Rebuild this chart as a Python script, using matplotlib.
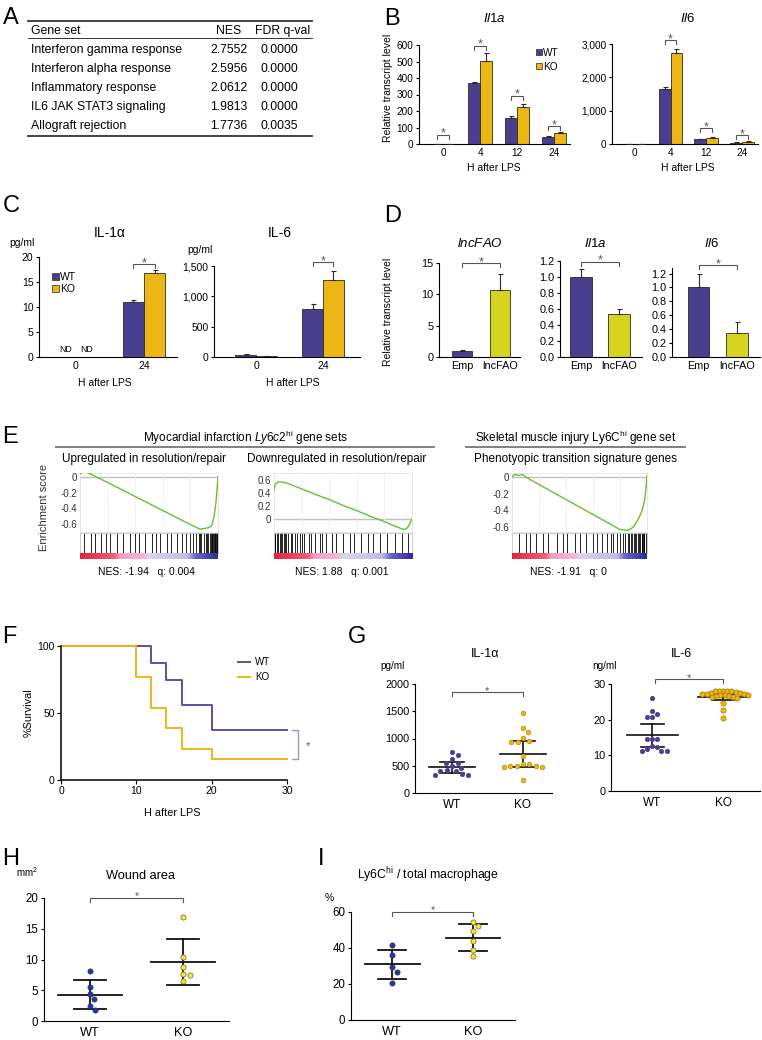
import numpy as np
import matplotlib
matplotlib.use("Agg")
import matplotlib.pyplot as plt
from matplotlib.lines import Line2D
from matplotlib.patches import Rectangle
from matplotlib.colors import LinearSegmentedColormap
from matplotlib.ticker import FuncFormatter

plt.rcParams['font.family'] = ['Liberation Sans', 'DejaVu Sans']
plt.rcParams['mathtext.fontset'] = 'custom'
plt.rcParams['mathtext.rm'] = 'Liberation Sans'
plt.rcParams['mathtext.it'] = 'Liberation Sans:italic'
plt.rcParams['mathtext.bf'] = 'Liberation Sans:bold'
plt.rcParams['axes.linewidth'] = 0.8
plt.rcParams['xtick.major.width'] = 0.8
plt.rcParams['ytick.major.width'] = 0.8

# ---------------- DATA ----------------
# A: GSEA table
gene_sets = ["Interferon gamma response", "Interferon alpha response",
             "Inflammatory response", "IL6 JAK STAT3 signaling", "Allograft rejection"]
nes_values = ["2.7552", "2.5956", "2.0612", "1.9813", "1.7736"]
fdr_values = ["0.0000", "0.0000", "0.0000", "0.0000", "0.0035"]

# B: transcript levels after LPS
b_hours = ["0", "4", "12", "24"]
b_il1a_wt = [1, 368, 155, 42]
b_il1a_wt_err = [0.5, 6, 12, 4]
b_il1a_ko = [1, 503, 226, 68]
b_il1a_ko_err = [0.5, 48, 18, 6]
b_il6_wt = [8, 1640, 140, 40]
b_il6_wt_err = [2, 70, 15, 8]
b_il6_ko = [6, 2740, 190, 72]
b_il6_ko_err = [2, 120, 15, 15]

# C: secreted cytokines
c_hours = ["0", "24"]
c_il1a_wt = [0, 11.0]
c_il1a_wt_err = [0, 0.35]
c_il1a_ko = [0, 16.8]
c_il1a_ko_err = [0, 0.6]
c_il6_wt = [40, 790]
c_il6_wt_err = [10, 80]
c_il6_ko = [10, 1265]
c_il6_ko_err = [4, 160]

# D: lncFAO overexpression
d_groups = ["Emp", "lncFAO"]
d_lncfao = [1.0, 10.7]
d_lncfao_err = [0.1, 2.5]
d_il1a = [1.0, 0.54]
d_il1a_err = [0.1, 0.06]
d_il6 = [1.0, 0.35]
d_il6_err = [0.2, 0.15]

# E: GSEA running enrichment scores
e_titles = ["Upregulated in resolution/repair", "Downregulated in resolution/repair",
            "Phenotyopic transition signature genes"]
e_nes = ["NES: -1.94   q: 0.004", "NES: 1.88   q: 0.001", "NES: -1.91   q: 0"]
e1_rank = [0, 0.02, 0.05, 0.12, 0.2, 0.3, 0.4, 0.5, 0.6, 0.7, 0.8, 0.87, 0.9, 0.93, 0.955, 0.97, 0.985, 1.0]
e1_es = [0.04, 0.07, 0.06, 0.0, -0.07, -0.16, -0.25, -0.34, -0.43, -0.52, -0.61, -0.67, -0.66, -0.65, -0.62, -0.52, -0.33, 0.0]
e2_rank = [0, 0.01, 0.03, 0.06, 0.1, 0.2, 0.3, 0.4, 0.5, 0.6, 0.7, 0.8, 0.9, 0.94, 0.96, 0.98, 1.0]
e2_es = [0.45, 0.54, 0.57, 0.57, 0.55, 0.465, 0.38, 0.30, 0.21, 0.13, 0.04, -0.04, -0.13, -0.16, -0.15, -0.09, 0.0]
e3_rank = [0, 0.02, 0.05, 0.08, 0.1, 0.2, 0.3, 0.4, 0.5, 0.6, 0.7, 0.8, 0.86, 0.9, 0.93, 0.96, 0.98, 0.995, 1.0]
e3_es = [0.0, 0.03, 0.02, 0.03, 0.0, -0.09, -0.18, -0.27, -0.36, -0.45, -0.54, -0.63, -0.64, -0.60, -0.52, -0.42, -0.30, -0.10, 0.02]
e1_hits = [0.03, 0.08, 0.11, 0.15, 0.19, 0.22, 0.27, 0.31, 0.36, 0.40, 0.43, 0.47, 0.52, 0.55,
           0.58, 0.63, 0.66, 0.70, 0.74, 0.77, 0.80, 0.82, 0.84, 0.86, 0.87, 0.88, 0.90, 0.91,
           0.92, 0.93, 0.94, 0.95, 0.955, 0.96, 0.965, 0.97, 0.975, 0.98, 0.985, 0.99, 0.995]
e2_hits = [0.005, 0.01, 0.02, 0.03, 0.04, 0.05, 0.06, 0.07, 0.08, 0.09, 0.10, 0.12, 0.13, 0.15,
           0.17, 0.19, 0.20, 0.22, 0.25, 0.27, 0.30, 0.33, 0.35, 0.38, 0.42, 0.45, 0.50, 0.55,
           0.58, 0.63, 0.68, 0.72, 0.77, 0.82, 0.88, 0.93, 0.97]
e3_hits = [0.05, 0.10, 0.13, 0.18, 0.23, 0.27, 0.33, 0.38, 0.41, 0.47, 0.50, 0.55, 0.60, 0.63,
           0.67, 0.70, 0.73, 0.75, 0.78, 0.80, 0.82, 0.84, 0.86, 0.87, 0.88, 0.89, 0.90, 0.91,
           0.92, 0.93, 0.94, 0.95, 0.96, 0.965, 0.97, 0.975, 0.98, 0.99]

# F: survival
f_wt_time = [0, 12, 14, 16, 20, 30]
f_wt_surv = [100, 87.5, 75, 56, 37.5, 37.5]
f_ko_time = [0, 10, 12, 14, 16, 20, 30]
f_ko_surv = [100, 76.9, 53.8, 38.5, 23.1, 15.4, 15.4]

# G: serum cytokines
g_il1a_wt = [745, 700, 615, 555, 550, 490, 460, 420, 400, 395, 340, 335, 330]
g_il1a_ko = [1477, 1194, 1120, 1003, 960, 929, 929, 683, 529, 529, 492, 492, 492, 468, 468, 246]
g_il1a_mean = [474, 714]
g_il1a_err = [98, 234]
g_il6_wt = [26.1, 22.3, 21.7, 20.7, 20.7, 14.5, 14.5, 14.5, 12.5, 12.3, 11.8, 11.3, 11.3, 11.3]
g_il6_ko = [28.1, 28.1, 28.0, 27.9, 27.9, 27.8, 27.6, 27.5, 27.3, 27.2, 27.1, 27.0, 27.0, 26.9,
            26.6, 26.5, 26.4, 26.3, 26.2, 24.8, 22.8, 20.4]
g_il6_mean = [15.6, 26.3]
g_il6_err = [3.15, 0.8]

# H: wound area
h_wt = [8.1, 5.5, 4.4, 3.6, 2.4, 1.8]
h_ko = [16.9, 10.4, 8.8, 7.6, 7.4, 6.5]
h_mean = [4.3, 9.6]
h_err = [2.3, 3.8]

# I: Ly6Chi / total macrophage
i_wt = [41.4, 35.9, 29.3, 26.9, 20.8]
i_ko = [54.4, 52.0, 49.2, 44.0, 39.0, 35.3]
i_mean = [31.0, 45.7]
i_err = [8.0, 7.4]

groups_wtko = ["WT", "KO"]

# ---------------- STYLE ----------------
WT_C = '#4a3f8f'
KO_C = '#ecb614'
LNC_C = '#d6d41f'
EDGE = '#2a2a2a'

W, H = 762, 1040
fig = plt.figure(figsize=(W / 100, H / 100), dpi=100)
fig.patch.set_facecolor('white')


def fx(x):
    return x / W


def fy(y):
    return 1 - y / H


def px_ax(l, t, r, b):
    return fig.add_axes([fx(l), fy(b), (r - l) / W, (b - t) / H])


def ctext(x, yc, s, fs, ha='center', **kw):
    base = yc + 0.358 * fs * 100 / 72
    return fig.text(fx(x), fy(base), s, ha=ha, va='baseline', fontsize=fs, **kw)


def rtext(x, yc, s, fs, **kw):
    return fig.text(fx(x), fy(yc), s, ha='center', va='center', rotation=90, fontsize=fs, **kw)


def fline(xs, ys, **kw):
    fig.add_artist(Line2D([fx(v) for v in xs], [fy(v) for v in ys],
                          transform=fig.transFigure, **kw))


def frect(x, y, w, h, **kw):
    fig.add_artist(Rectangle((fx(x), fy(y + h)), w / W, h / H,
                             transform=fig.transFigure, **kw))


def panel_label(x, base, s):
    fig.text(fx(x), fy(base), s, ha='left', va='baseline', fontsize=17)


def style(ax, fs, ylen=2.5):
    ax.spines['top'].set_visible(False)
    ax.spines['right'].set_visible(False)
    ax.tick_params(axis='y', direction='out', length=ylen, pad=1.5, labelsize=fs)
    ax.tick_params(axis='x', length=0, pad=3, labelsize=fs)


def bar_panel(ax, groups, series, errs, colors, width, ylim, yticks, fs, fmt=None, xlim=None):
    x = np.arange(len(groups))
    n = len(series)
    for i, (vals, err, col) in enumerate(zip(series, errs, colors)):
        xi = x + (i - (n - 1) / 2) * width
        vals = np.asarray(vals, float)
        err = np.asarray(err, float)
        ax.bar(xi, vals, width, color=col, edgecolor=EDGE, linewidth=0.6, zorder=2)
        m = err > 0
        ax.errorbar(xi[m], vals[m], yerr=[np.zeros(m.sum()), err[m]], fmt='none',
                    ecolor=EDGE, elinewidth=0.8, capsize=1.8, capthick=0.8, zorder=3)
    ax.set_xticks(x)
    ax.set_xticklabels(groups)
    ax.set_ylim(*ylim)
    ax.set_yticks(yticks)
    if xlim:
        ax.set_xlim(*xlim)
    if fmt:
        ax.yaxis.set_major_formatter(FuncFormatter(fmt))
    style(ax, fs)


def bracket(ax, x1, x2, ytop, leg_px=4, color='#555555', lw=0.8, star_fs=9, star_px=-2):
    trans = ax.transData
    _, ypx = trans.transform((x1, ytop))
    ylow = trans.inverted().transform((0, ypx - leg_px))[1]
    ax.plot([x1, x1, x2, x2], [ylow, ytop, ytop, ylow], color=color, lw=lw,
            clip_on=False, zorder=5, solid_joinstyle='miter')
    ax.annotate('*', xy=((x1 + x2) / 2, ytop), xytext=(0, star_px), textcoords='offset pixels',
                ha='center', va='baseline', fontsize=star_fs, color=color, annotation_clip=False)


def swarm_x(ax, xc, values, diam):
    trans = ax.transData
    pts = trans.transform(np.column_stack([np.full(len(values), xc), values]))
    ys = pts[:, 1]
    order = np.argsort(-ys, kind='stable')
    placed = []
    offs = np.zeros(len(values))
    for i in order:
        y = ys[i]
        cands = [0.0]
        for (px_, py_) in placed:
            dy = abs(y - py_)
            if dy < diam:
                dx = np.sqrt(diam ** 2 - dy ** 2)
                cands += [px_ + dx, px_ - dx]
        cands = sorted(cands, key=lambda c: (abs(c), -c))
        for c in cands:
            if all((c - a) ** 2 + (y - b) ** 2 >= diam ** 2 - 1e-6 for a, b in placed):
                offs[i] = c
                placed.append((c, y))
                break
    xpix = pts[:, 0] + offs
    return trans.inverted().transform(np.column_stack([xpix, ys]))[:, 0]


def dot_panel(ax, data, means, errs, colors, edges, diams, sizes, mean_hw, cap_hw, lw=1.2):
    for i, (vals, m, e, c, ec, d, s) in enumerate(zip(data, means, errs, colors, edges, diams, sizes)):
        xs = swarm_x(ax, i, vals, d)
        ax.scatter(xs, vals, s=s, color=c, edgecolor=ec, linewidth=0.5, zorder=4, clip_on=False)
        ax.plot([i - mean_hw, i + mean_hw], [m, m], color='#111111', lw=lw, zorder=3)
        ax.plot([i - cap_hw, i + cap_hw], [m + e, m + e], color='#111111', lw=lw, zorder=3)
        ax.plot([i - cap_hw, i + cap_hw], [m - e, m - e], color='#111111', lw=lw, zorder=3)
        ax.plot([i, i], [m - e, m + e], color='#111111', lw=lw, zorder=3)


comma = lambda v, p: f"{int(v):,}"

# ================= A =================
panel_label(3, 24, 'A')
fline([28, 312], [21, 21], color='#333333', lw=1.3)
ctext(31, 30, 'Gene set', 8.8, ha='left')
ctext(229, 30, 'NES', 8.8)
ctext(283, 30, 'FDR q-val', 8.8)
fline([28, 312], [38, 38], color='#333333', lw=0.7)
for k, (gs, nes, fdr) in enumerate(zip(gene_sets, nes_values, fdr_values)):
    y = 49 + 19 * k
    ctext(31, y, gs, 8.8, ha='left')
    ctext(229, y, nes, 8.8)
    ctext(279, y, fdr, 8.8)
fline([28, 312], [136, 136], color='#333333', lw=1.3)

# ================= B =================
panel_label(384, 25, 'B')
axb1 = px_ax(419, 45, 570, 144)
bar_panel(axb1, b_hours, [b_il1a_wt, b_il1a_ko], [b_il1a_wt_err, b_il1a_ko_err],
          [WT_C, KO_C], 0.32, (0, 600), range(0, 601, 100), 7.2, xlim=(-0.65, 3.43))
for xi, yb in zip(range(4), [55, 596, 293, 109]):
    bracket(axb1, xi - 0.16, xi + 0.16, yb, leg_px=4)
axb2 = px_ax(612, 44, 758, 144)
bar_panel(axb2, b_hours, [b_il6_wt, b_il6_ko], [b_il6_wt_err, b_il6_ko_err],
          [WT_C, KO_C], 0.33, (0, 3000), range(0, 3001, 1000), 7.2, fmt=comma, xlim=(-0.64, 3.45))
for xi, yb in zip([1, 2, 3], [3120, 470, 270]):
    bracket(axb2, xi - 0.165, xi + 0.165, yb, leg_px=4)
ctext(494, 17, r'$\mathit{Il1a}$', 9.5)
ctext(688, 17, r'$\mathit{Il6}$', 9.5)
rtext(388, 88, 'Relative transcript level', 7.5)
ctext(494, 167, 'H after LPS', 7.5)
ctext(688, 167, 'H after LPS', 7.5)
frect(536, 49, 6, 6, facecolor=WT_C, edgecolor=EDGE, lw=0.5)
frect(536, 63, 6, 6, facecolor=KO_C, edgecolor=EDGE, lw=0.5)
ctext(543, 52, 'WT', 7.2, ha='left')
ctext(543, 66, 'KO', 7.2, ha='left')

# ================= C =================
panel_label(3, 212, 'C')
axc1 = px_ax(39, 257, 177, 357)
bar_panel(axc1, c_hours, [c_il1a_wt, c_il1a_ko], [c_il1a_wt_err, c_il1a_ko_err],
          [WT_C, KO_C], 0.31, (0, 20), range(0, 21, 5), 7.5, xlim=(-0.544, 1.485))
bracket(axc1, 1 - 0.155, 1 + 0.155, 18.6, leg_px=4)
for xo in (-0.155, 0.155):
    axc1.text(xo, 0.6, 'ND', ha='center', va='bottom', fontsize=6.3)
axc2 = px_ax(214, 266, 360, 357)
bar_panel(axc2, c_hours, [c_il6_wt, c_il6_ko], [c_il6_wt_err, c_il6_ko_err],
          [WT_C, KO_C], 0.31, (0, 1500), range(0, 1501, 500), 7.5, fmt=comma, xlim=(-0.627, 1.552))
bracket(axc2, 1 - 0.155, 1 + 0.155, 1566, leg_px=4)
ctext(110, 232, 'IL-1α', 10)
ctext(280, 232, 'IL-6', 10)
ctext(22, 242, 'pg/ml', 7.5)
ctext(200, 249, 'pg/ml', 7.5)
frect(52, 273, 6.5, 6.5, facecolor=WT_C, edgecolor=EDGE, lw=0.5)
frect(52, 285, 6.5, 6.5, facecolor=KO_C, edgecolor=EDGE, lw=0.5)
ctext(60, 276, 'WT', 7.5, ha='left')
ctext(60, 288, 'KO', 7.5, ha='left')
ctext(105, 382, 'H after LPS', 7.5)
ctext(293, 382, 'H after LPS', 7.5)

# ================= D =================
panel_label(384, 222, 'D')
axd1 = px_ax(439, 263, 520, 357)
bar_panel(axd1, d_groups, [d_lncfao], [d_lncfao_err], [[WT_C, LNC_C]], 0.53,
          (0, 15), range(0, 16, 5), 7.8, xlim=(-0.6, 1.53))
bracket(axd1, 0, 1, 15, leg_px=4)
axd2 = px_ax(560, 261, 642, 357)
bar_panel(axd2, d_groups, [d_il1a], [d_il1a_err], [[WT_C, LNC_C]], 0.58,
          (0, 1.2), np.arange(0, 1.21, 0.2), 7.8, fmt=lambda v, p: f"{v:.1f}", xlim=(-0.55, 1.6))
bracket(axd2, 0, 1, 1.19, leg_px=4)
axd3 = px_ax(672, 268, 760, 357)
bar_panel(axd3, d_groups, [d_il6], [d_il6_err], [[WT_C, LNC_C]], 0.55,
          (0, 1.28), np.arange(0, 1.21, 0.2), 7.8, fmt=lambda v, p: f"{v:.1f}", xlim=(-0.69, 1.6))
bracket(axd3, 0, 1, 1.32, leg_px=4)
ctext(480, 242, r'$\mathit{lncFAO}$', 9.5)
ctext(595, 242, r'$\mathit{Il1a}$', 9.5)
ctext(712, 242, r'$\mathit{Il6}$', 9.5)
rtext(388, 312, 'Relative transcript level', 7.5)

# ================= E =================
panel_label(2, 443, 'E')
ctext(246, 438, r'Myocardial infarction $\mathit{Ly6c2}^{\mathrm{hi}}$ gene sets', 8.5)
fline([56, 434], [447, 447], color='#808080', lw=1.4)
ctext(576, 438, r'Skeletal muscle injury Ly6C$^{\mathrm{hi}}$ gene set', 8.5)
fline([466, 685], [447, 447], color='#808080', lw=1.4)
rtext(44, 507, 'Enrichment score', 8, color='#333333')

rank_cmap = LinearSegmentedColormap.from_list('rank', [
    (0.0, '#e4233d'), (0.25, '#ee6076'), (0.29, '#f3a2c4'), (0.46, '#f2b6d6'),
    (0.5, '#dcd4ef'), (0.78, '#c2bae6'), (0.84, '#6a66c4'), (1.0, '#2c2c9c')])

e_specs = [
    (80, 218, (-0.705, 0.051), [0, -0.2, -0.4, -0.6], ['0', '-0.2', '-0.4', '-0.6'], e1_rank, e1_es, e1_hits, 144, 146),
    (274, 412, (-0.20, 0.71), [0, 0.2, 0.4, 0.6], ['0', '0.2', '0.4', '0.6'], e2_rank, e2_es, e2_hits, 337, 342),
    (512, 647, (-0.66, 0.048), [0, -0.2, -0.4, -0.6], ['0', '-0.2', '-0.4', '-0.6'], e3_rank, e3_es, e3_hits, 575, 568),
]
for k, (l, r, yl, yt, ytl, rx, ry, hits, tx, nx) in enumerate(e_specs):
    ax = px_ax(l, 473, r, 532)
    ax.axhline(0, color='#c0c0c0', lw=1.0, zorder=1)
    ax.plot(rx, ry, color='#6cbf2c', lw=1.0, zorder=3)
    ax.set_xlim(0, 1)
    ax.set_ylim(*yl)
    ax.set_yticks(yt)
    ax.set_yticklabels(ytl)
    ax.set_xticks([0.2, 0.4, 0.6, 0.8])
    ax.set_xticklabels([])
    ax.grid(axis='x', color='#f0f0f0', lw=0.6)
    ax.tick_params(axis='both', length=0, labelsize=7, labelcolor='#333333', pad=2)
    for s in ax.spines.values():
        s.set_color('#e4e4e4')
        s.set_linewidth(0.6)
    axh = px_ax(l, 533, r, 553)
    axh.vlines(hits, 0, 1, color='black', lw=0.6)
    axh.set_xlim(0, 1)
    axh.set_ylim(0, 1)
    axh.set_xticks([])
    axh.set_yticks([])
    for s in axh.spines.values():
        s.set_color('#bbbbbb')
        s.set_linewidth(0.5)
    axc = px_ax(l, 553, r, 559)
    axc.imshow(np.linspace(0, 1, 256)[None, :], aspect='auto', cmap=rank_cmap, extent=[0, 1, 0, 1])
    axc.set_axis_off()
    ctext(tx, 458, e_titles[k], 8.5)
    ctext(nx, 571, e_nes[k], 7.5)

# ================= F =================
panel_label(2, 643, 'F')
axf = px_ax(61, 646, 287, 780)
axf.step(f_wt_time, f_wt_surv, where='post', color='#5b50a6', lw=1.4, clip_on=False)
axf.step(f_ko_time, f_ko_surv, where='post', color='#f0b41c', lw=1.4, clip_on=False)
axf.set_xlim(0, 30)
axf.set_ylim(0, 100)
axf.set_xticks([0, 10, 20, 30])
axf.set_yticks([0, 50, 100])
for s in ['top', 'right']:
    axf.spines[s].set_visible(False)
for s in ['left', 'bottom']:
    axf.spines[s].set_linewidth(1.1)
axf.tick_params(axis='both', direction='out', length=3, pad=1.5, labelsize=7.5)
axf.plot([30.7, 31.4, 31.4, 30.7], [37.5, 37.5, 15.4, 15.4], color='#9d96d0', lw=1.0, clip_on=False)
ctext(308, 745, '*', 8, color='#555555')
fline([238, 250], [662, 662], color='#5b50a6', lw=1.4)
fline([238, 250], [677, 677], color='#f0b41c', lw=1.4)
ctext(255, 662, 'WT', 7, ha='left')
ctext(255, 677, 'KO', 7, ha='left')
rtext(29, 713, '%Survival', 7.8)
ctext(172, 812, 'H after LPS', 7.8)

# ================= G =================
panel_label(348, 643, 'G')
axg1 = px_ax(415, 684, 552, 793)
axg1.set_xlim(-0.52, 1.41)
axg1.set_ylim(0, 2000)
axg1.set_yticks(range(0, 2001, 500))
axg1.set_xticks([0, 1])
axg1.set_xticklabels(groups_wtko)
style(axg1, 7.8)
axg1.tick_params(axis='x', labelsize=8.5, pad=4)
dot_panel(axg1, [g_il1a_wt, g_il1a_ko], g_il1a_mean, g_il1a_err, [WT_C, KO_C], [WT_C, '#b88a00'],
          [6.5, 6.5], [10, 11], 0.32, 0.17, lw=1.2)
bracket(axg1, 0, 1, 1853, leg_px=4, star_fs=8)
axg2 = px_ax(611, 684, 760, 791)
axg2.set_xlim(-0.58, 1.52)
axg2.set_ylim(0, 30)
axg2.set_yticks(range(0, 31, 10))
axg2.set_xticks([0, 1])
axg2.set_xticklabels(groups_wtko)
style(axg2, 7.8)
axg2.tick_params(axis='x', labelsize=8.5, pad=4)
dot_panel(axg2, [g_il6_wt, g_il6_ko], g_il6_mean, g_il6_err, [WT_C, KO_C], [WT_C, '#a07800'],
          [5.3, 4.2], [10, 14], 0.36, 0.16, lw=1.2)
bracket(axg2, 0.04, 1, 31.4, leg_px=4, star_fs=8)
ctext(485, 653, 'IL-1α', 9)
ctext(682, 653, 'IL-6', 9)
ctext(393, 665, 'pg/ml', 7.2)
ctext(605, 665, 'ng/ml', 7.2)

# ================= H =================
panel_label(2, 865, 'H')
axh = px_ax(44, 898, 229, 1021)
axh.set_xlim(-0.49, 1.49)
axh.set_ylim(0, 20)
axh.set_yticks(range(0, 21, 5))
axh.set_xticks([0, 1])
axh.set_xticklabels(groups_wtko)
style(axh, 8.3)
axh.tick_params(axis='x', labelsize=9.2, pad=4)
dot_panel(axh, [h_wt, h_ko], h_mean, h_err, ['#2c3a8e', '#f4e63c'], ['#1c2a6e', '#6a6a2a'],
          [6.5, 6.5], [14, 14], 0.34, 0.17, lw=1.3)
bracket(axh, 0, 1, 20, leg_px=4, star_fs=7.5, star_px=-1)
ctext(140, 874, 'Wound area', 9.2)
ctext(27, 874, 'mm$^{2}$', 7)

# ================= I =================
panel_label(318, 865, 'I')
axi = px_ax(351, 912, 515, 1020)
axi.set_xlim(-0.51, 1.52)
axi.set_ylim(0, 60)
axi.set_yticks(range(0, 61, 20))
axi.set_xticks([0, 1])
axi.set_xticklabels(groups_wtko)
style(axi, 8.3)
axi.tick_params(axis='x', labelsize=9.2, pad=4)
dot_panel(axi, [i_wt, i_ko], i_mean, i_err, ['#2c3a8e', '#f4e63c'], ['#1c2a6e', '#6a6a2a'],
          [6.5, 6.5], [14, 14], 0.34, 0.17, lw=1.3)
bracket(axi, 0, 1, 60, leg_px=4, star_fs=7.5, star_px=-1)
ctext(428, 875, r'Ly6C$^{\mathrm{hi}}$ / total macrophage', 8.8)
ctext(329, 897, '%', 7.5)

fig.savefig('out.png', dpi=100)
